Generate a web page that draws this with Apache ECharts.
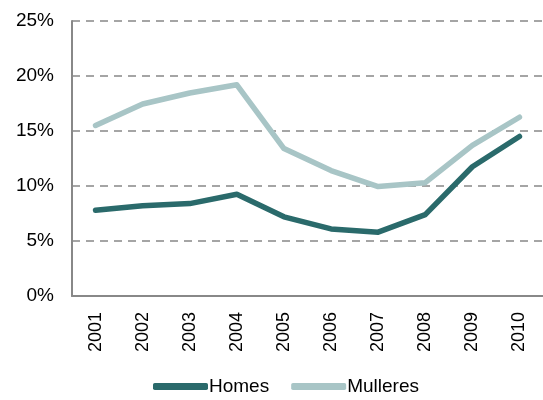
<!DOCTYPE html>
<html>
<head>
<meta charset="utf-8" />
<title>Homes e Mulleres</title>
<style>
	html, body { margin: 0; padding: 0; background: #fff; }
	#chart { width: 543px; height: 400px; }
</style>
</head>
<body>
<div id="chart"></div>
<script src="https://cdn.jsdelivr.net/npm/echarts@6/dist/echarts.min.js"></script>
<script>
// datos
const years = ['2001','2002','2003','2004','2005','2006','2007','2008','2009','2010'];
const homes = [7.8, 8.2, 8.4, 9.25, 7.2, 6.1, 5.8, 7.4, 11.75, 14.5];
const mulleres = [15.5, 17.45, 18.45, 19.2, 13.4, 11.4, 9.95, 10.3, 13.7, 16.25];

const chart = echarts.init(document.getElementById('chart'));
const font = 'Liberation Sans, Arial, sans-serif';

chart.setOption({
	animation: false,
	grid: { left: 72, width: 478, top: 21, bottom: 104 },
	legend: {
		bottom: -1,
		left: 148,
		itemWidth: 55,
		itemHeight: 7,
		itemGap: 22,
		icon: 'roundRect',
		textStyle: { fontFamily: font, fontSize: 19, color: '#000', padding: [0, 0, 0, -4] },
		data: ['Homes', 'Mulleres']
	},
	xAxis: {
		type: 'category',
		data: years,
		axisLine: { lineStyle: { color: '#888', width: 2 } },
		axisTick: { show: false },
		axisLabel: { rotate: 90, fontFamily: font, fontSize: 18, color: '#000', margin: 16 }
	},
	yAxis: {
		type: 'value',
		min: 0,
		max: 25,
		interval: 5,
		axisLine: { show: true, lineStyle: { color: '#888', width: 2 } },
		axisTick: { show: false },
		axisLabel: { formatter: '{value}%', fontFamily: font, fontSize: 19, color: '#000', margin: 18 },
		splitLine: { lineStyle: { color: '#888', type: [8, 6], width: 1.5 } }
	},
	series: [
		{
			name: 'Homes',
			type: 'line',
			data: homes,
			symbol: 'none',
			color: '#2a6a6b',
			lineStyle: { width: 5.5, cap: 'round', join: 'round' }
		},
		{
			name: 'Mulleres',
			type: 'line',
			data: mulleres,
			symbol: 'none',
			color: '#a8c5c6',
			lineStyle: { width: 5.5, cap: 'round', join: 'round' }
		}
	]
});
</script>
</body>
</html>
